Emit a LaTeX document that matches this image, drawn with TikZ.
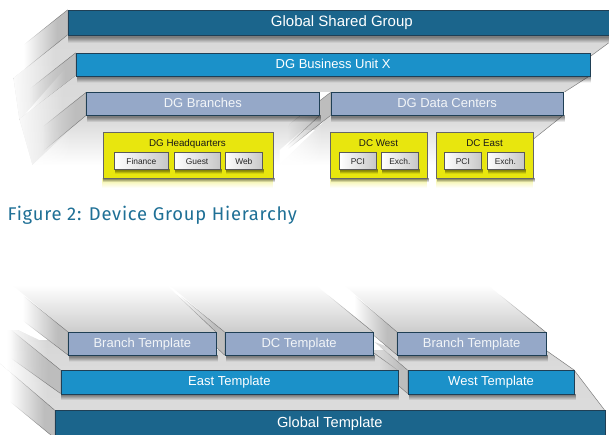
\documentclass[tikz,border=0pt]{standalone}
\usepackage{fontspec}
\setmainfont{Liberation Sans}
\newfontfamily\capfont[LetterSpace=4]{Fira Sans}
\usetikzlibrary{fadings}
\tikzfading[name=fdleft,left color=transparent!100,right color=transparent!0]
\tikzfading[name=fdright,left color=transparent!0,right color=transparent!100]
\tikzfading[name=fddown,top color=transparent!0,bottom color=transparent!100]
\tikzfading[name=fdup,top color=transparent!100,bottom color=transparent!0]
\definecolor{cglobal}{HTML}{1B658C}
\definecolor{cunit}{HTML}{1B91C9}
\definecolor{cgroup}{HTML}{95A8C8}
\definecolor{cyel}{HTML}{E8E60E}
\definecolor{cedge}{HTML}{1F3F55}
\definecolor{ccap}{HTML}{1F7096}
\tikzset{
  x=1pt,y=-1pt,
  barbox/.style={draw=cedge,line width=.7pt,inner sep=0pt,align=center,text=white,text height=.72em,text depth=0pt},
  glob/.style={barbox,fill=cglobal},
  unit/.style={barbox,fill=cunit},
  grp/.style={barbox,fill=cgroup,text=white!88!cgroup},
  yel/.style={draw=black!60,line width=.8pt,inner sep=0pt,fill=cyel},
  leaf/.style={draw=black!65,line width=.7pt,inner sep=0pt,left color=white,right color=black!22,text=black!85,text height=.72em,text depth=0pt,font=\fontsize{8.4}{10}\selectfont},
  ttl/.style={inner sep=0pt,text=black!90,text height=.72em,text depth=0pt,font=\fontsize{9.8}{12}\selectfont},
  sideface/.style={fill=black!26,draw=black!55,line width=.4pt,path fading=fdleft,fading transform={xscale=.62}},
  edgeline/.style={draw=black!50,line width=.5pt},
  big/.style={font=\fontsize{15}{17}\selectfont},
  mid/.style={font=\fontsize{13}{15}\selectfont},
}
\newcommand{\bx}[8]{%
  \pgfmathsetmacro\bxw{#5-#3}\pgfmathsetmacro\bxh{#6-#4}%
  \fill[black,opacity=.42,path fading=fddown,fading transform={yscale=.62}] ({#3+1},#6) rectangle ({#5+2},{#6+#8});
  \node[#2,anchor=north west,minimum width=\bxw pt,minimum height=\bxh pt] (#1) at (#3,#4) {#7};}
\newcommand{\flr}[6]{%
  \begin{scope}
    \clip #6 -- cycle;
    \shade[top color=#1,bottom color=#2] (-5,#3) rectangle (620,#4);
    \fill[white,path fading=fdright,fading transform={xscale=.62}] (-5,#3) rectangle (#5,#4);
  \end{scope}}
\begin{document}
\begin{tikzpicture}
\useasboundingbox (0.5,0) rectangle (609.5,435);
\clip (0.5,0) rectangle (609.5,435);
\fill[white] (0,0) rectangle (610,435);
% ---- upper hierarchy
\flr{black!15}{black!13}{35}{125}{70}{(68,35) -- (612,35) -- (612,41) -- (590,57) -- (76,57) -- (20,120) -- (14,78)}
\draw[edgeline] (609,43) -- (590,57);
\draw[sideface] (76,53) -- (76,76) -- (20,119) -- (20,97) -- cycle;
\flr{black!15}{black!12}{76}{165}{80}{(76,76) -- (590,76) -- (565,92) -- (320,92) -- (320,130) -- (86,130) -- (33,165) -- (20,119)}
\draw[edgeline] (590,76) -- (565,92);
\flr{black!16}{white}{115}{165}{90}{(86,115) -- (320,115) -- (280,150) -- (280,165) -- (33,165)}
\begin{scope}
 \clip (331,115) -- (564,115) -- (534,139) -- (534,165) -- (280,165) -- cycle;
 \shade[top color=black!16,bottom color=white] (270,115) rectangle (570,165);
 \fill[white,path fading=fdright,fading transform={xscale=.62}] (270,115) rectangle (335,165);
\end{scope}
\draw[edgeline] (563.5,115.5) -- (534,139);
\draw[sideface] (68,10) -- (68,35) -- (14,78) -- (14,53) -- cycle;
\draw[sideface] (86.5,92.5) -- (86.5,115.5) -- (33,160) -- (33,135) -- cycle;
\draw[sideface] (331,92.5) -- (331,115.5) -- (278,157) -- (290,124) -- cycle;
\draw[edgeline,path fading=fdleft,fading transform={xscale=.62}] (320,115.5) -- (278,155);
% reflections of the yellow boxes
\fill[cyel,opacity=.35,path fading=fddown,fading transform={yscale=.62}] (103,178) rectangle (273.5,190);
\fill[cyel,opacity=.35,path fading=fddown,fading transform={yscale=.62}] (330.5,178) rectangle (427.5,190);
\fill[cyel,opacity=.35,path fading=fddown,fading transform={yscale=.62}] (436,178) rectangle (533,190);
\bx{gsg}{glob,big}{68}{10}{616}{35.5}{Global Shared Group}{9}
\bx{bux}{unit,mid}{76.5}{53}{590}{76}{DG Business Unit X}{8}
\bx{dgb}{grp,mid}{86.5}{92.5}{319.5}{115.5}{DG Branches}{8}
\bx{dgd}{grp,mid}{331}{92.5}{563.5}{115.5}{DG Data Centers}{8}
\bx{hq}{yel}{103}{132.5}{273.5}{178}{}{5}
\bx{dw}{yel}{330.5}{132.5}{427.5}{178}{}{5}
\bx{de}{yel}{436}{132.5}{533}{178}{}{5}
\node[ttl] (hqt) at (188,143) {DG Headquarters};
\node[ttl] (dwt) at (379,143) {DC West};
\node[ttl] (det) at (485,143) {DC East};
\bx{fin}{leaf}{114.5}{152.5}{168.5}{169.5}{Finance}{5}
\bx{gue}{leaf}{174.5}{152.5}{220}{169.5}{Guest}{5}
\bx{web}{leaf}{225.5}{152.5}{262.5}{169.5}{Web}{5}
\bx{pw}{leaf}{339.5}{152.5}{376.5}{169.5}{PCI}{5}
\bx{xw}{leaf}{381.5}{152.5}{418.5}{169.5}{Exch.}{5}
\bx{pe}{leaf}{444.5}{152.5}{481.5}{169.5}{PCI}{5}
\bx{xe}{leaf}{487}{152.5}{524}{169.5}{Exch.}{5}
\node[anchor=west,inner sep=0pt,text=ccap,font=\capfont\fontsize{18.4}{22}\selectfont] (capt) at (8,215) {Figure 2: Device Group Hierarchy};
% ---- lower hierarchy
\flr{black!16}{black!14}{330}{410}{60}{(55,410) -- (605,410) -- (574.5,370) -- (546,350) -- (61,350) -- (3,323) -- (0,325) -- (0,363)}
\draw[edgeline] (605,410) -- (574.5,370);
\draw[sideface] (55,410) -- (55,438) -- (0,393) -- (0,363) -- cycle;
\flr{black!16}{black!14}{340}{370}{60}{(61,370) -- (398,370) -- (373,352) -- (68,355) -- (20,318) -- (3,323)}
\draw[edgeline] (398,370) -- (373,352);
\draw[sideface] (61,370) -- (61,393.5) -- (0,350) -- (3,323) -- cycle;
\flr{black!16}{black!14}{342}{370}{380}{(408,370) -- (574.5,370) -- (546,350) -- (397,350) -- (375,342)}
\draw[edgeline] (574.5,370) -- (546,350);
\draw[sideface] (408,370) -- (408,393.5) -- (373,363) -- (375,342) -- cycle;
\flr{white}{black!20}{285}{332}{345}{(397.5,332) -- (546,332) -- (488,285) -- (345,285)}
\draw[edgeline,path fading=fdup,fading transform={yscale=.62}] (546,332) -- (488,285);
\draw[sideface] (397.5,332) -- (397.5,355) -- (350,315) -- (345,287) -- cycle;
\flr{white}{black!20}{285}{332}{170}{(225,332) -- (373.5,332) -- (316,285) -- (170,285)}
\draw[edgeline,path fading=fdup,fading transform={yscale=.62}] (373.5,332) -- (316,285);
\draw[sideface] (225,332) -- (225,355) -- (216.5,347) -- (172,298) -- (170,287) -- cycle;
\flr{white}{black!20}{285}{332}{15}{(68.5,332) -- (216.5,332) -- (167,285) -- (13,285)}
\draw[edgeline,path fading=fdup,fading transform={yscale=.62}] (216.5,332) -- (167,285);
\draw[sideface] (68.5,332) -- (68.5,355) -- (20,318) -- (13,287) -- cycle;
\bx{bt}{grp,mid}{68.5}{332}{216.5}{355}{Branch Template}{8}
\bx{dt}{grp,mid}{225}{332}{373.5}{355}{DC Template}{8}
\bx{bt2}{grp,mid}{397.5}{332}{546}{355}{Branch Template}{8}
\bx{et}{unit,mid}{61}{370}{398}{393.5}{East Template}{8}
\bx{wt}{unit,mid}{408}{370}{574.5}{393.5}{West Template}{8}
\node[glob,anchor=north west,minimum width=550pt,minimum height=28pt,font=\fontsize{14.6}{17}\selectfont] (gt) at (55,410) {Global Template};
\end{tikzpicture}
\end{document}
